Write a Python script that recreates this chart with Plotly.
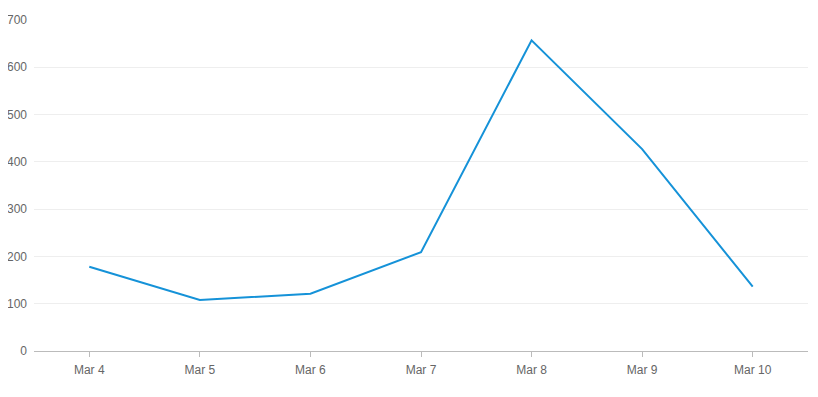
import plotly.graph_objects as go

dates = ["Mar 4", "Mar 5", "Mar 6", "Mar 7", "Mar 8", "Mar 9", "Mar 10"]
values = [178, 108, 121, 209, 657, 427, 136]
y_ticks = [0, 100, 200, 300, 400, 500, 600, 700]

fig = go.Figure(
    go.Scatter(
        x=dates, y=values, mode="lines",
        line=dict(color="#1592d8", width=2),
        hoverinfo="x+y",
    )
)

fig.update_layout(
    width=810, height=389,
    margin=dict(l=26, r=10, t=12, b=46, autoexpand=False),
    paper_bgcolor="white", plot_bgcolor="white",
    showlegend=False,
    font=dict(family="Liberation Sans, Arial, sans-serif", size=12, color="#666666"),
)
fig.update_xaxes(
    type="category", range=[-0.5, 6.5], automargin=False,
    showline=True, linecolor="#bbbbbb", linewidth=1,
    ticks="outside", ticklen=5, tickcolor="#bbbbbb", ticklabelstandoff=3,
    showgrid=False, zeroline=False,
    tickfont=dict(size=12, color="#666666"),
)
fig.update_yaxes(
    range=[0, 700], tickvals=y_ticks, automargin=False,
    showgrid=True, gridcolor="#eeeeee", gridwidth=1,
    zeroline=False, showline=False, ticks="", ticklabelstandoff=6,
    tickfont=dict(size=12, color="#666666"),
)

fig.write_html("out.html")
